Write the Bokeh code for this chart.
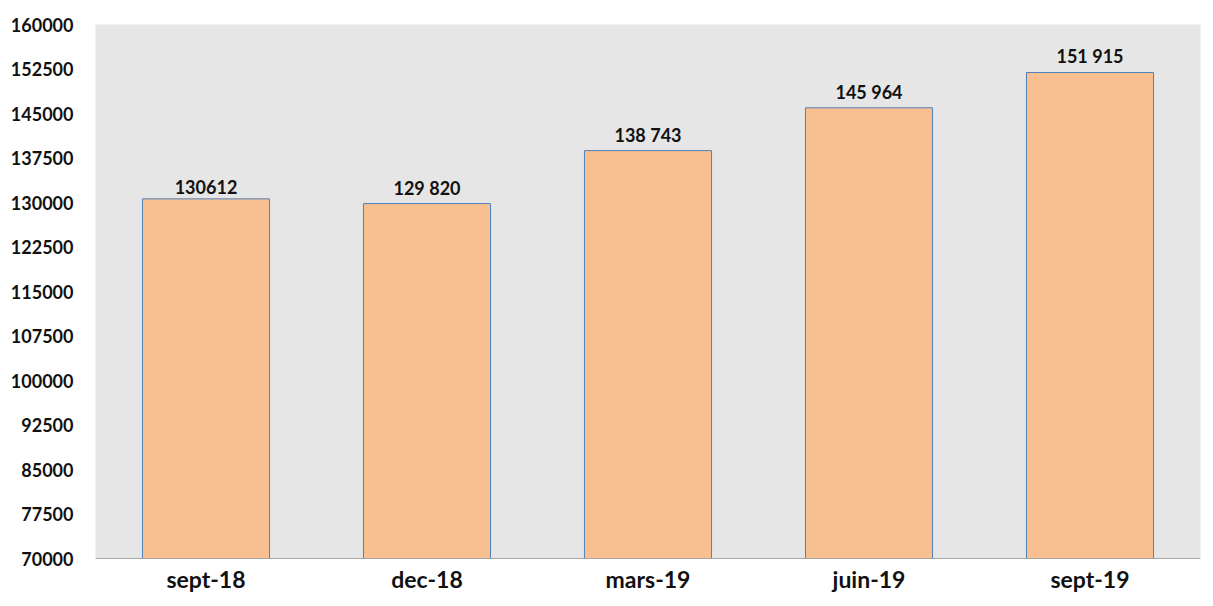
from bokeh.plotting import figure
from bokeh.models import ColumnDataSource, Range1d, FixedTicker, NumeralTickFormatter
from bokeh.embed import file_html
from bokeh.resources import INLINE
from bokeh.core.properties import value

categories = ["sept-18", "dec-18", "mars-19", "juin-19", "sept-19"]
values = [130612, 129820, 138743, 145964, 151915]
labels = ["130612", "129 820", "138 743", "145 964", "151 915"]
y_ticks = [70000, 77500, 85000, 92500, 100000, 107500, 115000, 122500,
           130000, 137500, 145000, 152500, 160000]

FONT = "Lato"

src = ColumnDataSource(dict(cat=categories, val=values, lab=labels,
                            bottom=[70000] * len(values)))

p = figure(x_range=categories, y_range=Range1d(70000, 160000),
           width=1205, height=603, output_backend="svg", toolbar_location=None,
           min_border_left=95, min_border_right=5, min_border_top=24,
           min_border_bottom=45)

p.vbar(x="cat", top="val", bottom="bottom", width=0.575, source=src,
       fill_color="#f8c090", line_color="#4f81bd", line_width=1)

p.text(x="cat", y="val", text="lab", source=src, text_align="center",
       text_baseline="bottom", y_offset=-5, text_font=value(FONT),
       text_font_style="bold", text_font_size="18px", text_color="#111111")

p.background_fill_color = "#e6e6e6"
p.border_fill_color = "white"
p.outline_line_color = None
p.xgrid.grid_line_color = None
p.ygrid.grid_line_color = None

p.yaxis.ticker = FixedTicker(ticks=y_ticks)
p.yaxis.formatter = NumeralTickFormatter(format="0")
p.yaxis.axis_line_color = None
p.yaxis.major_tick_line_color = None
p.yaxis.minor_tick_line_color = None
p.yaxis.major_label_text_font = FONT
p.yaxis.major_label_text_font_style = "bold"
p.yaxis.major_label_text_font_size = "18px"
p.yaxis.major_label_text_color = "#111111"
p.yaxis.major_label_standoff = 16

p.xaxis.axis_line_color = "#a6a6a6"
p.xaxis.major_tick_line_color = None
p.xaxis.minor_tick_line_color = None
p.xaxis.major_label_text_font = FONT
p.xaxis.major_label_text_font_style = "bold"
p.xaxis.major_label_text_font_size = "23px"
p.xaxis.major_label_text_color = "#111111"
p.xaxis.major_label_standoff = 0

open("out.html", "w").write(file_html(p, INLINE))
